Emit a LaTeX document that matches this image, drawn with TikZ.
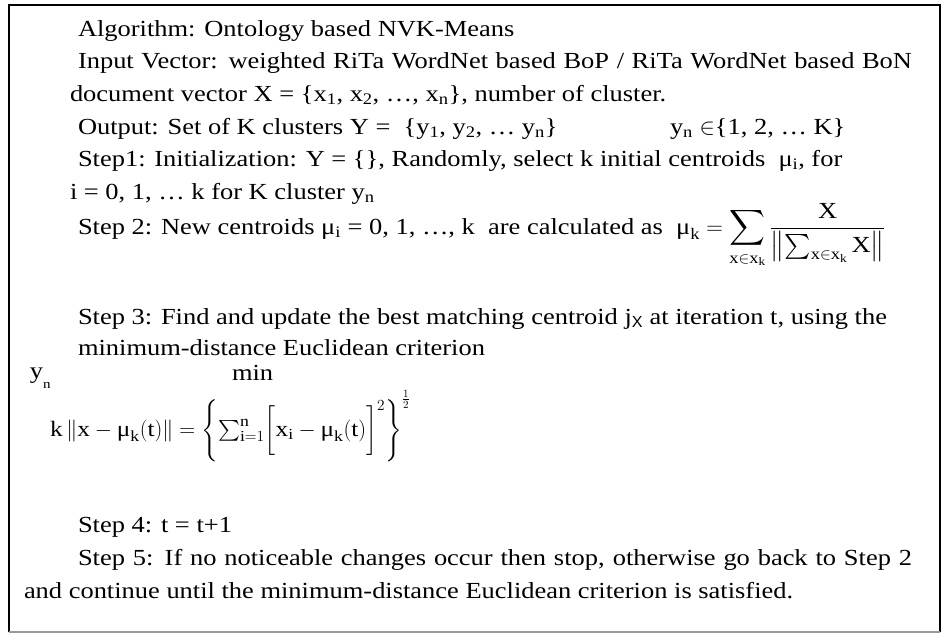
\RequirePackage{fix-cm}
\documentclass[tikz,border=0pt]{standalone}
\usepackage{amsmath}
\usepackage{fontspec}
\setmainfont[FakeStretch=1.15]{Liberation Serif}
\newfontfamily\sfx{Liberation Sans}
\newcommand\txtsize{\fontsize{23}{26}\selectfont}
\newcommand\eqsize{\fontsize{22}{26}\selectfont}
\newcommand\subsize{\fontsize{13}{13}\selectfont}
\tikzset{
  ln/.style={anchor=base west, inner sep=0pt, outer sep=0pt, font=\txtsize, text=black},
  frameline/.style={line width=2pt, draw=black},
  bottomline/.style={line width=1.2pt, draw=black!40}
}
\begin{document}
\begin{tikzpicture}[x=1pt,y=-1pt]
\useasboundingbox (0,0) rectangle (943,635);
\fill[white] (0,0) rectangle (943,635);
% frame
\draw[frameline] (9,632) -- (9,5) -- (940,5) -- (940,632);
\draw[bottomline] (9,632) -- (940,632);
% text lines
\node[ln] (l1) at (78,36) {Algorithm: Ontology based NVK-Means};
\node[ln] (l2) at (78,68.5) {\makebox[834pt][s]{Input Vector: weighted RiTa WordNet based BoP / RiTa WordNet based BoN}};
\node[ln] (l3) at (70,101) {document vector X = \{x\textsubscript{1}, x\textsubscript{2}, …, x\textsubscript{n}\}, number of cluster.};
\node[ln] (l4) at (78,134) {Output: Set of K clusters Y = \ \{y\textsubscript{1}, y\textsubscript{2}, … y\textsubscript{n}\}};
\node[ln] (l4b) at (670,134) {y\textsubscript{n} $\in$\{1, 2, … K\}};
\node[ln] (l5) at (78,166.5) {Step1: Initialization: Y = \{\}, Randomly, select k initial centroids \ μ\textsubscript{i}, for};
\node[ln] (l6) at (70,199) {i = 0, 1, … k for K cluster y\textsubscript{n}};
\node[ln] (s2) at (78,234) {Step 2: New centroids μ\textsubscript{i} = 0, 1, …, k \ are calculated as \ $\text{μ}_{\text{k}} = \displaystyle\sum_{\text{x}\in\text{x}_\text{k}}\frac{\text{X}}{\left\|\sum\nolimits_{\text{x}\in\text{x}_\text{k}}\text{X}\right\|}$};
\node[ln] (s3) at (78,324) {Step 3: Find and update the best matching centroid j\textsubscript{\sfx X} at iteration t, using the};
\node[ln] (s3b) at (78,355) {minimum-distance Euclidean criterion};
% formula
\node[ln] (yn) at (30,378) {y};
\node[ln, font=\subsize] (ynsub) at (43,388) {n};
\node[ln] (min) at (232,380) {min};
\node[ln, font=\eqsize] (eq) at (50,436) {$\text{k}\left\|\text{x}-\text{μ}_{\text{k}}(\text{t})\right\| = \Biggl\{\sum\nolimits_{\text{i}=1}^{\text{n}}\biggl[\text{x}_{\text{i}}-\text{μ}_{\text{k}}(\text{t})\biggr]^{2}\Biggr\}^{\frac{1}{2}}$};
% steps 4, 5
\node[ln] (s4) at (78,532) {Step 4: t = t+1};
\node[ln] (s5) at (78,565) {\makebox[834pt][s]{Step 5: If no noticeable changes occur then stop, otherwise go back to Step 2}};
\node[ln] (s5b) at (24,598) {and continue until the minimum-distance Euclidean criterion is satisfied.};
\end{tikzpicture}
\end{document}
